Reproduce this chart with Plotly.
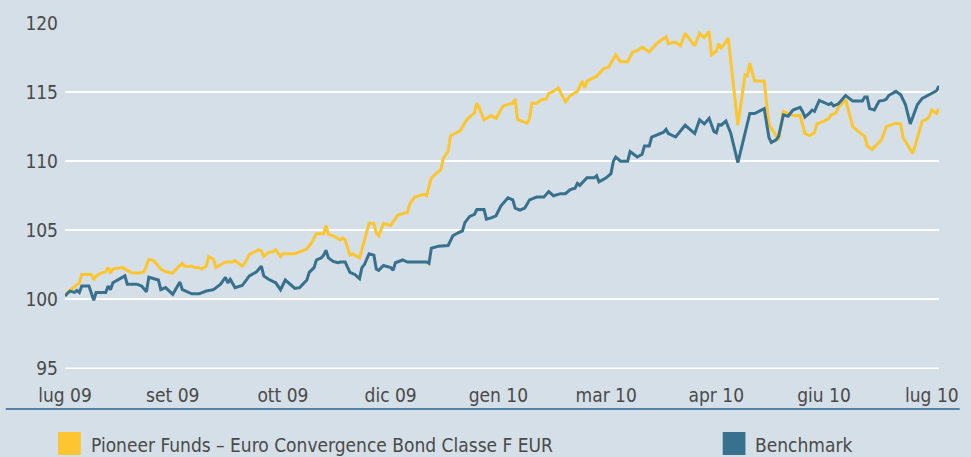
import plotly.graph_objects as go

# ---------------- data ----------------
fund_name = "Pioneer Funds – Euro Convergence Bond Classe F EUR"
bench_name = "Benchmark"

tick_days = [0, 45, 91, 136, 181, 226, 272, 317, 362]
tick_labels = ["lug 09", "set 09", "ott 09", "dic 09", "gen 10", "mar 10", "apr 10", "giu 10", "lug 10"]
y_ticks = [95, 100, 105, 110, 115, 120]

fund_day = [0, 4, 6, 7, 11, 12, 13, 15, 17, 18, 19, 20, 24, 26, 28, 31, 33, 35, 37, 40, 42, 45, 47, 49, 50,
            53, 54, 56, 57, 59, 60, 62, 63, 65, 67, 70, 71, 74, 75, 77, 79, 81, 82, 83, 85, 87, 88, 90, 91, 96,
            101, 103, 105, 108, 109, 110, 112, 114, 115, 116, 117, 119, 120, 123, 125, 127, 129, 130, 131, 133,
            136, 138, 139, 143, 144, 146, 150, 151, 153, 157, 158, 160, 161, 165, 166, 168, 171, 172, 173, 175,
            178, 180, 183, 187, 188, 189, 193, 194, 195, 197, 199, 201, 202, 204, 206, 209, 211, 214, 216, 217,
            218, 222, 225, 227, 230, 232, 235, 237, 239, 241, 244, 247, 251, 252, 254, 255, 257, 259, 261, 263,
            265, 267, 269, 270, 272, 273, 274, 275, 277, 281, 284, 285, 286, 288, 292, 294, 296, 298, 300, 302,
            304, 307, 309, 311, 313, 314, 317, 319, 320, 322, 323, 326, 329, 332, 334, 335, 337, 339, 341, 343,
            346, 347, 349, 350, 352, 354, 356, 357, 358, 360, 361, 362, 364, 365]
fund_value = [100.36, 100.96, 101.2, 101.8, 101.8, 101.4, 101.7, 101.9, 102.0, 102.3, 101.9, 102.2, 102.3, 102.1,
              101.9, 101.9, 102.0, 102.9, 102.8, 102.2, 102.0, 101.9, 102.3, 102.6, 102.4,
              102.4, 102.3, 102.3, 102.2, 102.4, 103.1, 102.9, 102.3, 102.5, 102.7, 102.7, 102.8, 102.4, 102.6,
              103.25, 103.4, 103.6, 103.5, 103.1, 103.4, 103.45, 103.6, 103.1, 103.3, 103.3,
              103.65, 104.1, 104.75, 104.75, 105.35, 104.7, 104.6, 104.4, 104.3, 104.45, 104.3, 103.2, 103.3,
              103.0, 104.3, 105.5, 105.5, 104.8, 104.6, 105.5,
              105.35, 105.85, 106.1, 106.3, 106.9, 107.4, 107.6, 107.5, 108.8, 109.4, 110.2, 110.7, 111.85,
              112.2, 112.5, 113.05, 113.5, 114.2, 113.85, 113.0,
              113.3, 113.1, 114.0, 114.2, 114.5, 113.0, 112.75, 113.1, 114.2, 114.2, 114.45, 114.5, 114.9,
              115.05, 115.3, 114.3, 114.75, 115.05, 115.8, 115.3,
              115.8, 116.15, 116.7, 116.8, 117.7, 117.2, 117.2, 117.9, 118.0, 118.25, 117.9, 118.5, 119.0,
              118.5, 118.6, 118.6, 118.35, 119.25, 118.8, 118.35,
              119.25, 118.95, 119.4, 117.7, 117.95, 118.5, 118.2, 118.4, 118.9, 112.6, 116.25, 116.2, 117.1,
              115.8, 115.8, 112.65, 112.1, 111.55, 113.6, 113.45,
              113.3, 113.3, 112.0, 111.85, 112.05, 112.7, 112.9, 113.1, 113.35, 113.5, 113.9, 114.45, 112.5,
              112.05, 111.8, 111.1, 110.85, 111.2, 111.55, 112.5,
              112.65, 112.75, 112.7, 111.7, 111.15, 110.55, 111.7, 112.3, 112.9, 113.05, 113.25, 113.7, 113.45,
              113.8]

bench_day = [0, 2, 4, 5, 6, 7, 10, 12, 13, 17, 18, 19, 20, 23, 25, 26, 30, 32, 34, 35, 39, 40, 42, 45, 47,
             48, 49, 53, 56, 59, 62, 65, 67, 68, 69, 71, 74, 77, 80, 82, 83, 85, 88, 90, 92, 94, 96, 98,
             101, 102, 104, 105, 107, 108, 109, 110, 112, 114, 115, 117, 119, 121, 123, 124, 125, 127, 129,
             130, 131, 133, 136, 137, 138, 141, 143, 151, 152, 153, 156, 160, 162, 164, 166, 167, 169, 171,
             172, 175, 176, 178, 180, 182, 184, 185, 187, 188, 190, 192, 194, 197, 200, 202, 204, 207, 209,
             211, 213, 214, 215, 218, 221, 222, 223, 226, 228, 229, 230, 232, 235, 236, 239, 241, 242, 244,
             245, 250, 251, 252, 255, 259, 263, 265, 267, 269, 271, 272, 273, 274, 276, 278, 281, 284, 286,
             288, 292, 294, 295, 297, 298, 300, 302, 304, 307, 308, 309, 311, 312, 313, 315, 319, 320, 321,
             323, 326, 329, 333, 334, 335, 336, 338, 340, 342, 343, 344, 347, 349, 351, 353, 356, 358, 360,
             362, 363, 364, 365]
bench_value = [100.24, 100.6, 100.5, 100.65, 100.5, 100.96, 100.96, 99.93, 100.5, 100.5, 100.96, 100.7, 101.2,
               101.5, 101.7, 101.1, 101.1, 100.96, 100.55, 101.6, 101.4, 100.7, 100.85, 100.36, 100.9,
               101.25, 100.7, 100.4, 100.4, 100.6, 100.7, 101.1, 101.6, 101.2, 101.45, 100.85, 101.0, 101.7,
               102.0, 102.4, 101.7, 101.45, 101.2, 100.7, 101.4, 101.1, 100.8, 100.85,
               101.4, 101.95, 102.3, 102.85, 103.0, 103.2, 103.55, 103.0, 102.75, 102.65, 102.7, 102.7, 101.95,
               101.8, 101.5, 102.3, 102.5, 103.3, 103.2,
               102.2, 102.1, 102.45, 102.3, 102.1, 102.65, 102.85, 102.7, 102.7, 102.6, 103.7, 103.85, 103.9,
               104.6, 104.8, 104.95, 105.55, 106.0, 106.15,
               106.5, 106.5, 105.8, 105.9, 106.05, 106.75, 107.15, 107.35, 107.2, 106.6, 106.45, 106.6, 107.2,
               107.4, 107.4, 107.8, 107.5, 107.65, 107.65,
               107.95, 108.05, 108.4, 108.25, 108.8, 108.8, 108.95, 108.5, 108.8, 109.1, 110.0, 110.3, 110.0,
               110.0, 110.7, 110.3, 110.5, 111.1, 111.1,
               111.75, 112.1, 112.3, 112.0, 111.75, 112.6, 112.0, 113.0, 112.7, 113.1, 112.15, 112.05, 112.65,
               112.6, 112.9, 112.05, 109.9, 112.05, 113.45,
               113.45, 113.8, 111.7, 111.35, 111.55, 111.8, 113.35, 113.25, 113.7, 113.9, 113.6, 113.2, 113.5,
               113.7, 113.6, 114.4, 114.1, 114.2, 114.0,
               114.15, 114.75, 114.35, 114.35, 114.65, 114.65, 113.8, 113.7, 114.35, 114.4, 114.5, 114.75,
               115.05, 114.8, 114.1, 112.7, 114.1, 114.55, 114.75,
               114.9, 115.05, 115.1, 115.45]

# ---------------- style ----------------
BG = "#d5dfe7"
FUND_C = "#fdc52f"
BENCH_C = "#37718d"
TEXT_C = "#4a4a4a"
FONT = "DejaVu Sans Condensed, Liberation Sans Narrow, sans-serif"

fig = go.Figure()
fig.add_trace(go.Scatter(x=fund_day, y=fund_value, mode="lines", name=fund_name,
                         line=dict(color=FUND_C, width=3), showlegend=False))
fig.add_trace(go.Scatter(x=bench_day, y=bench_value, mode="lines", name=bench_name,
                         line=dict(color=BENCH_C, width=3), showlegend=False))

W, H = 971, 457
ML, MR, MT, MB = 65, 21, 23, 88
pw, ph = W - ML - MR, H - MT - MB


def px(x):
    return (x - ML) / pw


def py(y):
    return (H - MB - y) / ph


fig.update_layout(
    width=W, height=H,
    margin=dict(l=ML, r=MR, t=MT, b=MB, pad=0),
    paper_bgcolor=BG, plot_bgcolor=BG,
    font=dict(family=FONT, color=TEXT_C, size=19),
    xaxis=dict(range=[0, 365], tickmode="array", tickvals=tick_days, ticktext=tick_labels,
               showgrid=False, zeroline=False, showline=False, ticks="",
               tickfont=dict(size=19, color=TEXT_C), ticklabelstandoff=13,
               ticklabeloverflow="allow"),
    yaxis=dict(range=[94.96, 120.0], tickmode="array", tickvals=y_ticks,
               showgrid=True, gridcolor="white", gridwidth=2, zeroline=False, showline=False,
               ticks="", tickfont=dict(size=19, color=TEXT_C), ticklabelstandoff=6),
    showlegend=False,
)

# bottom gridline (at the lowest tick, drawn explicitly)
fig.add_shape(type="line", xref="paper", yref="y", x0=0, x1=1, y0=y_ticks[0], y1=y_ticks[0],
              line=dict(color="white", width=2), layer="below")

# separator line below the axis
fig.add_shape(type="line", xref="paper", yref="paper", x0=px(5), x1=px(W), y0=py(409), y1=py(409),
              line=dict(color="#2a6496", width=1.5))

# legend squares and labels
legend_items = [(fund_name, FUND_C, 58, 89), (bench_name, BENCH_C, 731, 762)]
for name, col, sx, tx in legend_items:
    fig.add_shape(type="rect", xref="paper", yref="paper", x0=px(sx), x1=px(sx + 23),
                  y0=py(455), y1=py(432), line=dict(width=0), fillcolor=col)
    fig.add_annotation(text=name, xref="paper", yref="paper", x=px(tx), y=py(445),
                       xanchor="left", yanchor="middle", showarrow=False,
                       font=dict(size=19, color=TEXT_C, family=FONT))

fig.write_html("out.html", config={"displayModeBar": False},
               post_script="document.body.style.margin='0';document.body.style.overflow='hidden';")
